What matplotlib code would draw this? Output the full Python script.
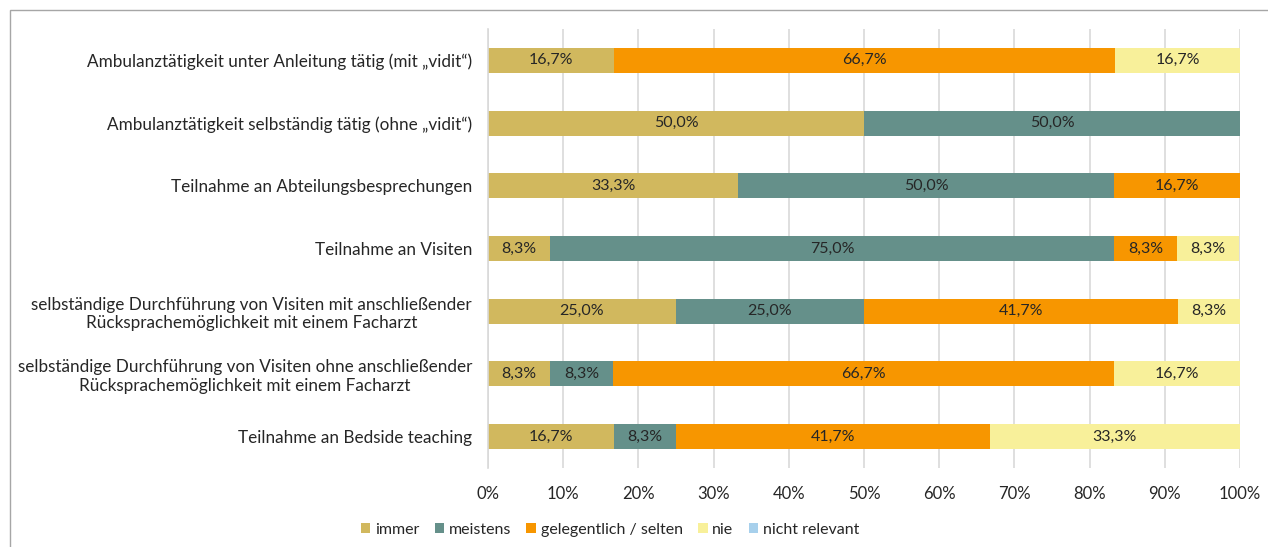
import matplotlib
matplotlib.use("Agg")
import matplotlib.pyplot as plt
from matplotlib.patches import Rectangle
import numpy as np

plt.rcParams['font.family'] = ['Lato', 'DejaVu Sans']

# categories top to bottom
categories = [
    "Ambulanztätigkeit unter Anleitung tätig (mit „vidit“)",
    "Ambulanztätigkeit selbständig tätig (ohne „vidit“)",
    "Teilnahme an Abteilungsbesprechungen",
    "Teilnahme an Visiten",
    "selbständige Durchführung von Visiten mit anschließender\nRücksprachemöglichkeit mit einem Facharzt",
    "selbständige Durchführung von Visiten ohne anschließender\nRücksprachemöglichkeit mit einem Facharzt",
    "Teilnahme an Bedside teaching",
]

series_names = ["immer", "meistens", "gelegentlich / selten", "nie", "nicht relevant"]
immer = [16.7, 50.0, 33.3, 8.3, 25.0, 8.3, 16.7]
meistens = [0, 50.0, 50.0, 75.0, 25.0, 8.3, 8.3]
gelegentlich = [66.7, 0, 16.7, 8.3, 41.7, 66.7, 41.7]
nie = [16.7, 0, 0, 8.3, 8.3, 16.7, 33.3]
nicht_relevant = [0, 0, 0, 0, 0, 0, 0]

colors = ["#D1B85E", "#65908A", "#F79600", "#F8F09A", "#A7D0EC"]

fig = plt.figure(figsize=(12.68, 5.47), dpi=100)
W, H = 1268, 547
ax = fig.add_axes([488 / W, 1 - 468 / H, (1240 - 488) / W, (468 - 29) / H])

# chart frame
fig.patches.append(Rectangle((10 / W, -0.1), 1.2, 1 - 10 / H + 0.1,
                             transform=fig.transFigure, fill=False,
                             edgecolor="#A6A6A6", linewidth=1.0))

y = np.arange(len(categories))
left = np.zeros(len(categories))
all_series = [immer, meistens, gelegentlich, nie, nicht_relevant]
for name, vals, col in zip(series_names, all_series, colors):
    vals = np.array(vals) / 100.0
    ax.barh(y, vals, left=left, height=0.4, color=col, label=name, zorder=2)
    for yi, (l, v) in enumerate(zip(left, vals)):
        if v > 0:
            ax.text(l + v / 2, yi, f"{v * 100:.1f}%".replace(".", ","),
                    ha="center", va="center", fontsize=11.5, color="#262626", zorder=3)
    left += vals

ax.set_ylim(len(categories) - 0.5, -0.5)
ax.set_xlim(0, 1)
ticks = np.arange(0, 1.01, 0.1)
ax.set_xticks(ticks)
ax.set_xticklabels([f"{int(round(t * 100))}%" for t in ticks])
ax.set_yticks(y)
ax.set_yticklabels(categories, ha="right", multialignment="center")
ax.tick_params(axis="y", length=0, pad=11.5, labelsize=12.3, colors="#262626")
ax.tick_params(axis="x", length=0, pad=13, labelsize=12, colors="#262626")

ax.grid(axis="x", color="#D9D9D9", linewidth=1.2, zorder=0)
for s in ["top", "right", "bottom"]:
    ax.spines[s].set_visible(False)
ax.spines["left"].set_color("#D9D9D9")
ax.spines["left"].set_linewidth(1.2)

fig.legend(loc="center", bbox_to_anchor=(610 / W, 1 - 530 / H), ncol=5,
           frameon=False, fontsize=11.5, handlelength=0.6, handleheight=0.6,
           handletextpad=0.3, columnspacing=0.95, labelcolor="#262626")

fig.savefig("out.png", dpi=100)
